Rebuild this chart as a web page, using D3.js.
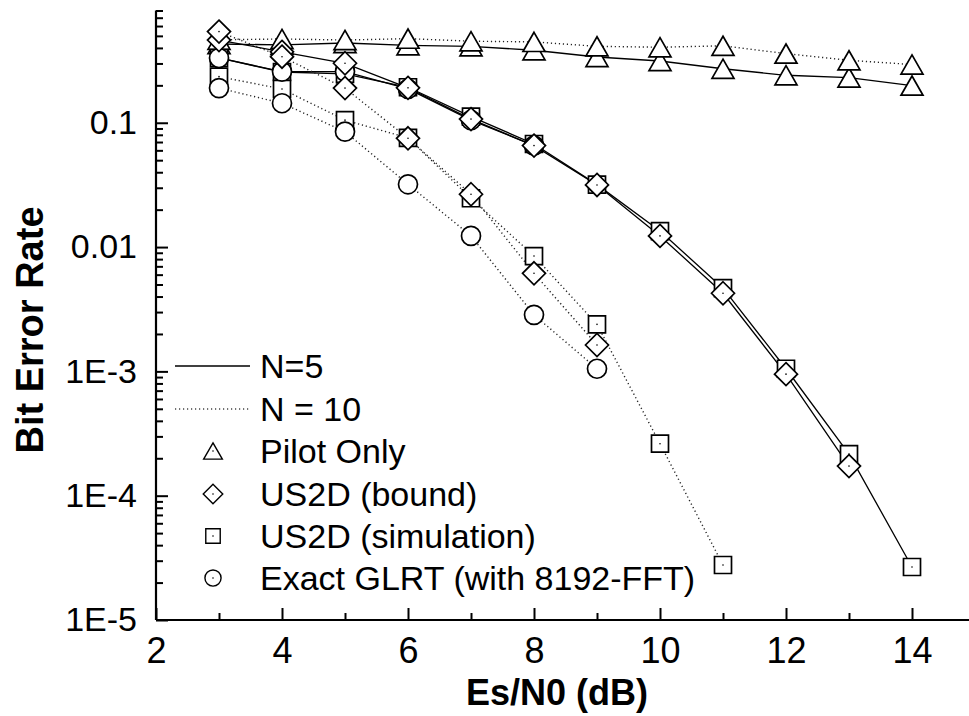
<!DOCTYPE html>
<html>
<head>
<meta charset="utf-8">
<script src="https://cdn.jsdelivr.net/npm/d3@7.9.0/dist/d3.min.js"></script>
<style>
  body { margin: 0; background: #fff; }
  svg { display: block; font-family: "Liberation Sans", Arial, sans-serif; }
</style>
</head>
<body>
<svg id="chart" width="969" height="716"></svg>
<script>
const FONT = '"Liberation Sans", Arial, sans-serif';

// Es/N0 (dB) values
const snr = [3, 4, 5, 6, 7, 8, 9, 10, 11, 12, 13, 14];

// Pilot only
const pilotN5 = [0.43, 0.423, 0.438, 0.42, 0.412, 0.383, 0.338, 0.314, 0.272, 0.241, 0.231, 0.199];
const pilotN10 = [0.465, 0.472, 0.463, 0.475, 0.453, 0.447, 0.412, 0.405, 0.416, 0.36, 0.318, 0.294];

// US2D bound
const boundN5 = [0.463, 0.372, 0.301, 0.191, 0.107, 0.0655, 0.0316, 0.0123, 0.00425, 0.00095, 0.000173];
const boundN10 = [0.541, 0.34, 0.19, 0.075, 0.0266, 0.00615, 0.00163];

// US2D simulation
const simN5 = [0.332, 0.256, 0.247, 0.193, 0.112, 0.0675, 0.0318, 0.01345, 0.00467, 0.00105, 0.000216, 0.0000267];
const simN10 = [0.235, 0.187, 0.105, 0.0755, 0.0247, 0.00847, 0.00239, 0.000262, 0.0000277];

// Exact GLRT
const glrtN5 = [0.332, 0.258, 0.258, 0.187, 0.105, 0.0655];
const glrtN10 = [0.19, 0.1436, 0.0848, 0.032, 0.0123, 0.00285, 0.00105];

const yMajor = [1e-5, 1e-4, 1e-3, 1e-2, 1e-1];
const yMajorLabels = ['1E-5', '1E-4', '1E-3', '0.01', '0.1'];
const xMajor = [2, 4, 6, 8, 10, 12, 14];
const xMinor = [3, 5, 7, 9, 11, 13, 15];

const legendLines = [
  { label: 'N=5', dash: null },
  { label: 'N = 10', dash: '1.2,2.8' }
];
const legendSymbols = [
  { label: 'Pilot Only', sym: 'triangle' },
  { label: 'US2D (bound)', sym: 'diamond' },
  { label: 'US2D (simulation)', sym: 'square' },
  { label: 'Exact GLRT (with 8192-FFT)', sym: 'circle' }
];

// custom marker shapes (size = scale factor)
const shapes = {
  triangle: { draw(c, s) { c.moveTo(0, -9.6 * s); c.lineTo(11 * s, 9.6 * s); c.lineTo(-11 * s, 9.6 * s); c.closePath(); } },
  diamond: { draw(c, s) { c.moveTo(0, -11.5 * s); c.lineTo(11.5 * s, 0); c.lineTo(0, 11.5 * s); c.lineTo(-11.5 * s, 0); c.closePath(); } },
  square: { draw(c, s) { c.rect(-8.5 * s, -8.5 * s, 17 * s, 17 * s); } },
  circle: { draw(c, s) { c.moveTo(9.5 * s, 0); c.arc(0, 0, 9.5 * s, 0, 2 * Math.PI); } }
};

const series = [
  { vals: pilotN5, sym: 'triangle', dash: null, dot: false },
  { vals: pilotN10, sym: 'triangle', dash: '1.2,2.8', dot: false },
  { vals: simN5, sym: 'square', dash: null, dot: true },
  { vals: simN10, sym: 'square', dash: '1.2,2.8', dot: true },
  { vals: glrtN5, sym: 'circle', dash: null, dot: false },
  { vals: glrtN10, sym: 'circle', dash: '1.2,2.8', dot: false },
  { vals: boundN5, sym: 'diamond', dash: null, dot: true },
  { vals: boundN10, sym: 'diamond', dash: '1.2,2.8', dot: true }
];

const svg = d3.select('#chart');

const x = d3.scaleLinear().domain([2, 15]).range([156, 975]);
const y = d3.scaleLog().domain([1e-5, 0.8]).range([620, 10.5]);

// minor y ticks
let yMinor = [];
for (let e = -5; e <= -1; e++) {
  for (let m = 2; m <= 9; m++) {
    let v = m * Math.pow(10, e);
    if (v <= 0.8 + 1e-9) yMinor.push(v);
  }
}

function styleAxis(g, size) {
  g.attr('font-family', FONT).attr('font-size', size);
  g.select('.domain').attr('stroke', '#000').attr('stroke-width', 2.2);
  g.selectAll('.tick line').attr('stroke', '#000').attr('stroke-width', 2);
  g.selectAll('.tick text').attr('fill', '#000');
}

// axes
svg.append('g')
  .attr('transform', 'translate(156,0)')
  .call(d3.axisLeft(y).tickValues(yMinor).tickSize(-7).tickFormat(''))
  .call((g) => g.select('.domain').remove())
  .call((g) => styleAxis(g, 10));

svg.append('g')
  .attr('transform', 'translate(156,0)')
  .call(d3.axisLeft(y).tickValues(yMajor).tickSize(-12).tickPadding(19)
    .tickFormat((d, i) => yMajorLabels[i]))
  .call((g) => g.select('.domain').attr('d', `M0,${y(0.8)}V620`))
  .call((g) => styleAxis(g, 34));

svg.append('g')
  .attr('transform', 'translate(0,620)')
  .call(d3.axisBottom(x).tickValues(xMinor).tickSize(-7).tickFormat(''))
  .call((g) => g.select('.domain').remove())
  .call((g) => styleAxis(g, 10));

svg.append('g')
  .attr('transform', 'translate(0,620)')
  .call(d3.axisBottom(x).tickValues(xMajor).tickSize(-12).tickPadding(17).tickFormat(d3.format('d')))
  .call((g) => g.select('.domain').attr('d', 'M156,0H975'))
  .call((g) => styleAxis(g, 36));

// axis titles
svg.append('text')
  .attr('x', 557).attr('y', 705)
  .attr('text-anchor', 'middle')
  .attr('font-size', 36).attr('font-weight', 'bold')
  .text('Es/N0 (dB)');

svg.append('text')
  .attr('transform', 'translate(43,330) rotate(-90)')
  .attr('text-anchor', 'middle')
  .attr('font-size', 38).attr('font-weight', 'bold')
  .text('Bit Error Rate');

// lines
const line = d3.line()
  .x((d) => x(d[0]))
  .y((d) => y(d[1]));

const plot = svg.append('g');

series.forEach((s) => {
  const pts = s.vals.map((v, i) => [snr[i], v]);
  plot.append('path')
    .attr('d', line(pts))
    .attr('fill', 'none')
    .attr('stroke', s.dash ? '#222' : '#000')
    .attr('stroke-width', s.dash ? 1.4 : 1.3)
    .attr('stroke-dasharray', s.dash);
});

// markers
series.forEach((s) => {
  const pts = s.vals.map((v, i) => [snr[i], v]);
  const g = plot.append('g');
  pts.forEach((p) => {
    const mg = g.append('g').attr('transform', `translate(${x(p[0])},${y(p[1])})`);
    mg.append('path')
      .attr('d', d3.symbol().type(shapes[s.sym]).size(1)())
      .attr('fill', '#fff')
      .attr('stroke', '#000')
      .attr('stroke-width', 1.7);
    if (s.dot) {
      mg.append('circle').attr('r', 0.8).attr('fill', '#000');
    }
  });
});

// legend
const legend = svg.append('g');
const rowY = [366, 409, 451, 494, 536, 578];

legendLines.forEach((d, i) => {
  legend.append('line')
    .attr('x1', 175).attr('x2', 250)
    .attr('y1', rowY[i]).attr('y2', rowY[i])
    .attr('stroke', d.dash ? '#444' : '#000')
    .attr('stroke-width', 1.3)
    .attr('stroke-dasharray', d.dash);
  legend.append('text')
    .attr('x', 260).attr('y', rowY[i] + 12)
    .attr('font-size', 34)
    .text(d.label);
});

legendSymbols.forEach((d, i) => {
  const cy = rowY[i + 2];
  const mg = legend.append('g').attr('transform', `translate(213,${cy})`);
  mg.append('path')
    .attr('d', d3.symbol().type(shapes[d.sym]).size(0.85)())
    .attr('fill', '#fff')
    .attr('stroke', '#000')
    .attr('stroke-width', 1.4);
  mg.append('circle').attr('r', 0.8).attr('fill', '#000');
  legend.append('text')
    .attr('x', 260).attr('y', cy + 12)
    .attr('font-size', 34)
    .text(d.label);
});
</script>
</body>
</html>
